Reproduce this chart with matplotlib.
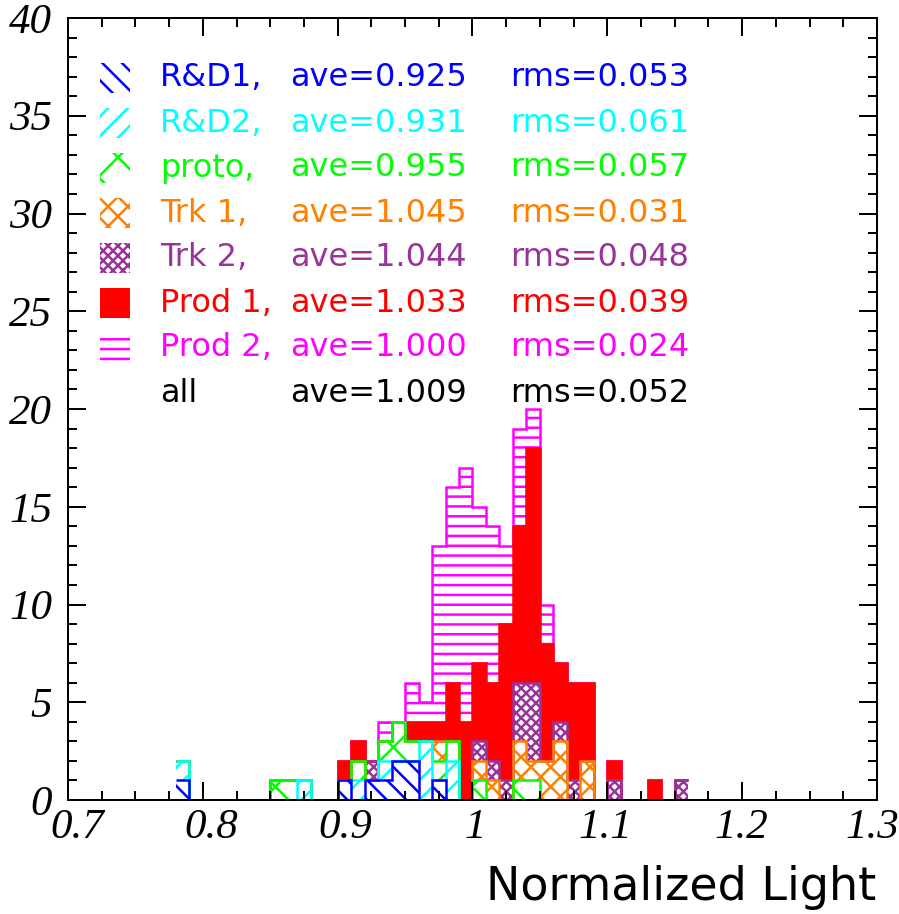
import numpy as np
import matplotlib
matplotlib.use('Agg')
import matplotlib.pyplot as plt
from matplotlib.patches import Rectangle
from matplotlib.transforms import ScaledTranslation

# bins of width 0.01, lower edges from 0.78 to 1.15
bin_lo = np.round(np.arange(0.78, 1.155, 0.01), 3)

rd1 = [1,0,0,0,0,0,0,0,0,0, 0,0,1,0,1,1,2,2,0,1, 0,0,0,0,0,0,0,0,0,0, 0,0,0,0,0,0,0,0]
rd2 = [1,0,0,0,0,0,0,0,0,1, 0,0,0,1,0,1,0,0,3,0, 2,0,0,0,0,0,0,0,0,0, 0,0,0,0,0,0,0,0]
proto = [0,0,0,0,0,0,0,1,1,0, 0,0,0,1,0,1,2,1,0,1, 1,0,1,0,0,1,1,0,0,0, 0,0,0,0,0,0,0,0]
trk1 = [0,0,0,0,0,0,0,0,0,0, 0,0,0,0,0,0,0,0,0,1, 0,0,1,1,0,2,1,2,3,0, 2,0,0,0,0,0,0,0]
trk2 = [0,0,0,0,0,0,0,0,0,0, 0,0,0,0,1,0,0,0,0,0, 0,0,1,1,1,3,4,0,1,1, 0,0,1,0,0,0,0,1]
prod1 = [0,0,0,0,0,0,0,0,0,0, 0,0,1,1,0,0,0,1,1,1, 3,4,4,4,8,8,12,6,3,5, 4,0,1,0,0,1,0,0]
prod2 = [0,0,0,0,0,0,0,0,0,0, 0,0,0,0,0,1,0,2,1,9, 10,13,8,8,4,5,2,2,0,0, 0,0,0,0,0,0,0,0]

names = ['R&D1,', 'R&D2,', 'proto,', 'Trk 1,', 'Trk 2,', 'Prod 1,', 'Prod 2,', 'all']
aves = ['0.925', '0.931', '0.955', '1.045', '1.044', '1.033', '1.000', '1.009']
rmss = ['0.053', '0.061', '0.057', '0.031', '0.048', '0.039', '0.024', '0.052']

xtick_vals = [0.7, 0.8, 0.9, 1.0, 1.1, 1.2, 1.3]
xtick_labels = ['0.7', '0.8', '0.9', '1', '1.1', '1.2', '1.3']

series = [rd1, rd2, proto, trk1, trk2, prod1, prod2]
colors = ['#0000ff', '#00ffff', '#00ff00', '#ff8000', '#993399', '#ff0000', '#ff00ff']
hatches = ['\\\\', '//', 'x', 'xx', 'xxxx', None, '--']

DPI = 118
W, H = 899, 914


def pt(px):
    return px * 72.0 / DPI


plt.rcParams['hatch.linewidth'] = pt(2.5)

fig = plt.figure(figsize=(W / DPI, H / DPI), dpi=DPI)
ax = fig.add_axes([68 / W, 1 - 800 / H, (877 - 68) / W, (800 - 18) / H])

bw = 0.01
edges = np.append(bin_lo, bin_lo[-1] + bw)
centers = bin_lo + bw / 2
cum = np.cumsum(np.array(series), axis=0)

# draw from the top layer down, like a root stack
for i in range(len(series) - 1, -1, -1):
    vals = np.array(series[i])
    bottom = cum[i] - vals
    nz = vals > 0
    c = colors[i]
    if hatches[i] is None:
        ax.bar(centers[nz], vals[nz], width=bw, bottom=bottom[nz],
               color=c, linewidth=0)
    else:
        ax.bar(centers[nz], vals[nz], width=bw, bottom=bottom[nz],
               facecolor='none', edgecolor=c, hatch=hatches[i], linewidth=0)
    ax.stairs(cum[i], edges, baseline=None, color=c, linewidth=pt(2.5))

ax.set_xlim(0.7, 1.3)
ax.set_ylim(0, 40)
ax.set_xticks(xtick_vals)
ax.set_xticklabels(xtick_labels)
ax.set_xticks(np.arange(0.7, 1.3, 0.025), minor=True)
ax.set_yticks(np.arange(0, 41, 5))
ax.set_yticks(np.arange(0, 41, 1), minor=True)

ax.tick_params(which='both', direction='in', top=True, right=True,
               width=pt(2), color='black')
ax.tick_params(which='major', length=pt(18))
ax.tick_params(which='minor', length=pt(9))
ax.tick_params(axis='y', pad=pt(16))
ax.tick_params(axis='x', pad=pt(8))
for sp in ax.spines.values():
    sp.set_linewidth(pt(2))

for lab in ax.get_xticklabels() + ax.get_yticklabels():
    lab.set_fontfamily('Liberation Serif')
    lab.set_fontstyle('italic')
    lab.set_fontsize(pt(43))

# small horizontal nudges of the x labels, as in the original
nudge = [9, 8, 8, 3, -2, -1, -5]
for lab, dx in zip(ax.get_xticklabels(), nudge):
    lab.set_transform(lab.get_transform() +
                      ScaledTranslation(dx / DPI, 0, fig.dpi_scale_trans))

# legend block
row_y = [78, 123, 168, 213, 258, 303, 348, 393]
fs = pt(32)
for k in range(8):
    yy = (800 - row_y[k]) / 782
    tc = colors[k] if k < 7 else 'black'
    if k < 7:
        x0 = (100 - 68) / 809
        y0 = (800 - row_y[k] - 15) / 782
        if hatches[k] is None:
            r = Rectangle((x0, y0), 30 / 809, 30 / 782, transform=ax.transAxes,
                          facecolor=tc, linewidth=0)
        else:
            r = Rectangle((x0, y0), 30 / 809, 30 / 782, transform=ax.transAxes,
                          facecolor='none', edgecolor=tc, hatch=hatches[k],
                          linewidth=0)
        ax.add_patch(r)
    ax.text((160 - 68) / 809, yy, names[k], transform=ax.transAxes,
            color=tc, fontsize=fs, va='center', ha='left')
    ax.text((290 - 68) / 809, yy, 'ave=' + aves[k], transform=ax.transAxes,
            color=tc, fontsize=fs, va='center', ha='left')
    ax.text((510 - 68) / 809, yy, 'rms=' + rmss[k], transform=ax.transAxes,
            color=tc, fontsize=fs, va='center', ha='left')

fig.text(876 / W, 1 - 900 / H, 'Normalized Light', ha='right', va='baseline',
         fontsize=pt(46))

fig.savefig('out.png', dpi=DPI)
